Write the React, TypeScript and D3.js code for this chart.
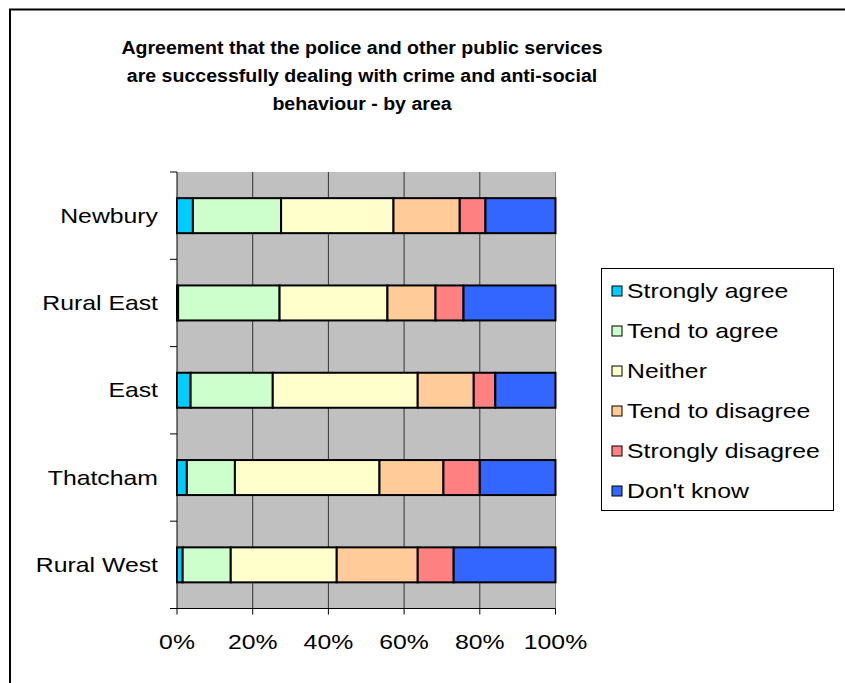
import React from "react";
import * as d3 from "d3";

const categories = ["Newbury", "Rural East", "East", "Thatcham", "Rural West"];
const seriesNames = ["Strongly agree", "Tend to agree", "Neither", "Tend to disagree", "Strongly disagree", "Don't know"];
const stronglyAgree = [4.2, 0.3, 3.6, 2.6, 1.5];
const tendToAgree = [23.3, 26.8, 21.7, 12.7, 12.7];
const neither = [29.7, 28.5, 38.3, 38.2, 28.0];
const tendToDisagree = [17.5, 12.7, 14.8, 16.9, 21.4];
const stronglyDisagree = [6.8, 7.4, 5.7, 9.6, 9.5];
const dontKnow = [18.5, 24.3, 15.9, 20.0, 26.9];
const xTicks = [0, 20, 40, 60, 80, 100];
const colors = ["#00CCFF", "#CCFFCC", "#FFFFCC", "#FFCC99", "#FF8080", "#3366FF"];
const titleLines = [
  "Agreement that the police and other public services",
  "are successfully dealing with crime and anti-social",
  "behaviour - by area",
];

export default function App() {
  const W = 845, H = 683;
  const left = 177, right = 555.5, top = 172, bottom = 608.5;
  const seriesValues = [stronglyAgree, tendToAgree, neither, tendToDisagree, stronglyDisagree, dontKnow];
  const rows = categories.map((c, i) => {
    const r: any = { cat: c };
    seriesNames.forEach((s, j) => (r[s] = seriesValues[j][i]));
    return r;
  });
  const stack = d3.stack().keys(seriesNames).offset(d3.stackOffsetExpand)(rows as any);
  const x = d3.scaleLinear().domain([0, 1]).range([left, right]);
  const yBand = d3.scaleBand().domain(categories).range([top, bottom]).paddingInner(0).paddingOuter(0);
  const bw = yBand.bandwidth();
  const barH = 35;
  const font = "'Liberation Sans', Arial, sans-serif";
  const sx = 1.24;
  const fs = 20;

  const T = (props: any) => {
    const { x: tx, y: ty, s = sx, children, ...rest } = props;
    return (
      <text transform={`translate(${tx},${ty}) scale(${s},1)`} {...rest}>
        {children}
      </text>
    );
  };

  return (
    <svg width={W} height={H} style={{ position: "absolute", left: 0, top: 0 }} fontFamily={font}>
      <rect x={0} y={0} width={W} height={H} fill="#fff" />
      <rect x={10} y={9.5} width={W + 50} height={H + 50} fill="#fff" stroke="#000" strokeWidth={2} />
      {titleLines.map((t, i) => (
        <T key={i} x={362} y={54 + i * 28} s={1.03} textAnchor="middle" fontSize={19} fontWeight="bold" fill="#000">
          {t}
        </T>
      ))}
      <rect x={left} y={top} width={right - left} height={bottom - top} fill="#C0C0C0" />
      <line x1={right} x2={right} y1={top} y2={bottom} stroke="#808080" strokeWidth={1} />
      {xTicks.slice(1, -1).map((t) => (
        <line key={t} x1={x(t / 100)} x2={x(t / 100)} y1={top} y2={bottom} stroke="#333" strokeWidth={1} />
      ))}
      {stack.map((s, j) =>
        s.map((d: any, i: number) => {
          const yc = (yBand(categories[i]) as number) + bw / 2;
          return (
            <rect
              key={j + "-" + i}
              x={x(d[0])}
              y={yc - barH / 2}
              width={Math.max(0, x(d[1]) - x(d[0]))}
              height={barH}
              fill={colors[j]}
              stroke="#000"
              strokeWidth={2}
            />
          );
        })
      )}
      <line x1={left} x2={left} y1={top} y2={bottom} stroke="#000" strokeWidth={1} />
      <line x1={left - 7} x2={right} y1={bottom} y2={bottom} stroke="#000" strokeWidth={1} />
      {categories.map((c, i) => (
        <line key={"t" + i} x1={left - 7} x2={left} y1={yBand(c) as number} y2={yBand(c) as number} stroke="#000" />
      ))}
      {categories.map((c) => (
        <T key={c} x={158} y={(yBand(c) as number) + bw / 2 + 7} textAnchor="end" fontSize={fs} fill="#000">
          {c}
        </T>
      ))}
      {xTicks.map((t) => (
        <g key={"x" + t}>
          <line x1={x(t / 100)} x2={x(t / 100)} y1={bottom} y2={bottom + 6} stroke="#000" />
          <T x={x(t / 100)} y={649} textAnchor="middle" fontSize={fs} fill="#000">
            {t + "%"}
          </T>
        </g>
      ))}
      <rect x={601.5} y={268.5} width={232} height={242} fill="#fff" stroke="#000" strokeWidth={1} />
      {seriesNames.map((s, j) => (
        <g key={s}>
          <rect x={612} y={286 + j * 40} width={10} height={10} fill={colors[j]} stroke="#000" strokeWidth={1} />
          <T x={627} y={298 + j * 40} fontSize={fs} fill="#000">
            {s}
          </T>
        </g>
      ))}
    </svg>
  );
}
